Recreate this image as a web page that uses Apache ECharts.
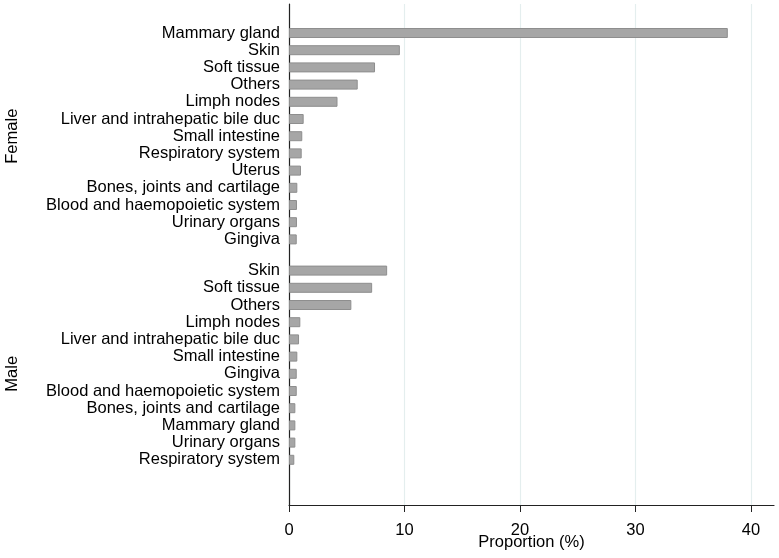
<!DOCTYPE html>
<html lang="en">
<head>
<meta charset="UTF-8">
<title>Proportion by site</title>
<script src="https://cdn.jsdelivr.net/npm/echarts@6/dist/echarts.min.js"></script>
<style>
  html, body { margin: 0; padding: 0; background: #fff; }
  #main { width: 779px; height: 558px; }
</style>
</head>
<body>
<div id="main"></div>
<script>
// female group, top to bottom
const femaleSites = [
  "Mammary gland", "Skin", "Soft tissue", "Others", "Limph nodes",
  "Liver and intrahepatic bile duc", "Small intestine", "Respiratory system",
  "Uterus", "Bones, joints and cartilage", "Blood and haemopoietic system",
  "Urinary organs", "Gingiva"
];
const femaleValues = [38.0, 9.6, 7.45, 5.95, 4.2, 1.27, 1.15, 1.1, 1.04, 0.72, 0.69, 0.69, 0.67];

// male group, top to bottom
const maleSites = [
  "Skin", "Soft tissue", "Others", "Limph nodes",
  "Liver and intrahepatic bile duc", "Small intestine", "Gingiva",
  "Blood and haemopoietic system", "Bones, joints and cartilage",
  "Mammary gland", "Urinary organs", "Respiratory system"
];
const maleValues = [8.5, 7.2, 5.4, 0.98, 0.87, 0.72, 0.67, 0.67, 0.55, 0.55, 0.55, 0.46];

const xTicks = [0, 10, 20, 30, 40];

var font = '"Liberation Sans", Arial, sans-serif';
var gridColor = '#e4eeee';
var myChart = echarts.init(document.getElementById('main'));

function groupAxis(idx, name, cats) {
  return {
    type: 'category',
    gridIndex: idx,
    inverse: true,
    data: cats,
    name: name,
    nameLocation: 'middle',
    nameRotate: 90,
    nameGap: 268,
    nameMoveOverlap: false,
    nameTextStyle: { fontFamily: font, fontSize: 16.5, color: '#000' },
    axisLine: { show: false },
    axisTick: { show: false },
    axisLabel: { fontFamily: font, fontSize: 16.5, color: '#000', margin: 9, interval: 0 }
  };
}

function hiddenX(idx) {
  return { type: 'value', gridIndex: idx, min: 0, max: 42, show: false };
}

var option = {
  animation: false,
  grid: [
    { left: 289, right: 5, top: 4, bottom: 53, outerBoundsMode: 'none' },
    { left: 289, right: 5, top: 24.4, height: 223.6, outerBoundsMode: 'none' },
    { left: 289, right: 5, top: 262, height: 223.6, outerBoundsMode: 'none' }
  ],
  xAxis: [
    {
      type: 'value',
      gridIndex: 0,
      min: 0,
      max: 42,
      interval: 10,
      name: 'Proportion (%)',
      nameLocation: 'middle',
      nameGap: 28.5,
      nameMoveOverlap: false,
      nameTextStyle: { fontFamily: font, fontSize: 16.5, color: '#000' },
      axisLine: { show: true, lineStyle: { color: '#222', width: 1.2 } },
      axisTick: { show: true, length: 7, customValues: xTicks, lineStyle: { color: '#222' } },
      axisLabel: { fontFamily: font, fontSize: 16.5, color: '#000', margin: 17, customValues: xTicks },
      splitLine: {
        show: true,
        lineStyle: { color: [gridColor, gridColor, gridColor, gridColor, gridColor, 'rgba(0,0,0,0)'], width: 1.2 }
      }
    },
    hiddenX(1),
    hiddenX(2)
  ],
  yAxis: [
    {
      type: 'value',
      gridIndex: 0,
      min: 0,
      max: 1,
      axisLine: { show: true, lineStyle: { color: '#222', width: 1.2 } },
      axisTick: { show: false },
      axisLabel: { show: false },
      splitLine: { show: false }
    },
    groupAxis(1, 'Female', femaleSites),
    // trailing blank row, the group has an empty slot under it
    groupAxis(2, 'Male', maleSites.concat(['']))
  ],
  series: [
    {
      type: 'bar',
      xAxisIndex: 1,
      yAxisIndex: 1,
      data: femaleValues,
      barWidth: 10,
      itemStyle: { color: '#a6a6a6', borderColor: '#8e8e8e', borderWidth: 1 }
    },
    {
      type: 'bar',
      xAxisIndex: 2,
      yAxisIndex: 2,
      data: maleValues.concat(['-']),
      barWidth: 10,
      itemStyle: { color: '#a6a6a6', borderColor: '#8e8e8e', borderWidth: 1 }
    }
  ]
};
option && myChart.setOption(option);
</script>
</body>
</html>
